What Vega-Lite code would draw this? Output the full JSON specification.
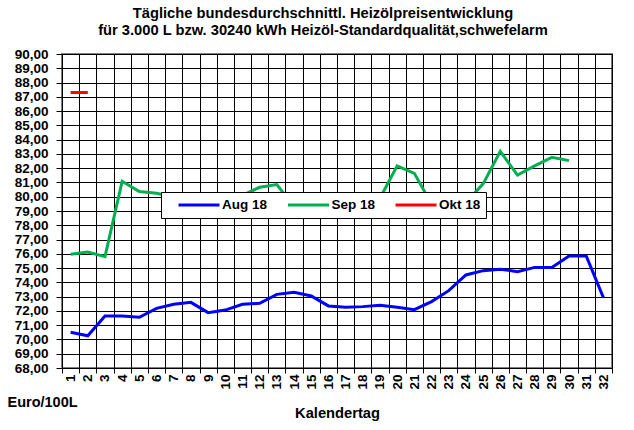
{
  "$schema": "https://vega.github.io/schema/vega-lite/v6.json",
  "width": 550,
  "height": 314,
  "autosize": {"type": "none"},
  "padding": {"left": 62, "top": 54, "right": 22, "bottom": 62},
  "background": "white",
  "title": {
    "text": ["Tägliche bundesdurchschnittl. Heizölpreisentwicklung", "für 3.000 L bzw. 30240 kWh Heizöl-Standardqualität,schwefelarm"],
    "font": "Liberation Sans",
    "fontSize": 14.7,
    "fontWeight": "bold",
    "color": "black",
    "anchor": "middle",
    "offset": 9,
    "lineHeight": 17,
    "dx": -14
  },
  "config": {
    "font": "Liberation Sans",
    "view": {"stroke": "#808080", "strokeWidth": 2}
  },
  "data": {
    "values": [
      {"tag": 1, "serie": "Aug 18", "wert": 70.5},
      {"tag": 2, "serie": "Aug 18", "wert": 70.26},
      {"tag": 3, "serie": "Aug 18", "wert": 71.64},
      {"tag": 4, "serie": "Aug 18", "wert": 71.65},
      {"tag": 5, "serie": "Aug 18", "wert": 71.55},
      {"tag": 6, "serie": "Aug 18", "wert": 72.18},
      {"tag": 7, "serie": "Aug 18", "wert": 72.46},
      {"tag": 8, "serie": "Aug 18", "wert": 72.6},
      {"tag": 9, "serie": "Aug 18", "wert": 71.88},
      {"tag": 10, "serie": "Aug 18", "wert": 72.06},
      {"tag": 11, "serie": "Aug 18", "wert": 72.46},
      {"tag": 12, "serie": "Aug 18", "wert": 72.53},
      {"tag": 13, "serie": "Aug 18", "wert": 73.16},
      {"tag": 14, "serie": "Aug 18", "wert": 73.3},
      {"tag": 15, "serie": "Aug 18", "wert": 73.05},
      {"tag": 16, "serie": "Aug 18", "wert": 72.35},
      {"tag": 17, "serie": "Aug 18", "wert": 72.25},
      {"tag": 18, "serie": "Aug 18", "wert": 72.3},
      {"tag": 19, "serie": "Aug 18", "wert": 72.4},
      {"tag": 20, "serie": "Aug 18", "wert": 72.25},
      {"tag": 21, "serie": "Aug 18", "wert": 72.09},
      {"tag": 22, "serie": "Aug 18", "wert": 72.65},
      {"tag": 23, "serie": "Aug 18", "wert": 73.42},
      {"tag": 24, "serie": "Aug 18", "wert": 74.52},
      {"tag": 25, "serie": "Aug 18", "wert": 74.82},
      {"tag": 26, "serie": "Aug 18", "wert": 74.92},
      {"tag": 27, "serie": "Aug 18", "wert": 74.75},
      {"tag": 28, "serie": "Aug 18", "wert": 75.05},
      {"tag": 29, "serie": "Aug 18", "wert": 75.05},
      {"tag": 30, "serie": "Aug 18", "wert": 75.85},
      {"tag": 31, "serie": "Aug 18", "wert": 75.85},
      {"tag": 32, "serie": "Aug 18", "wert": 72.93},
      {"tag": 1, "serie": "Sep 18", "wert": 75.97},
      {"tag": 2, "serie": "Sep 18", "wert": 76.13},
      {"tag": 3, "serie": "Sep 18", "wert": 75.8},
      {"tag": 4, "serie": "Sep 18", "wert": 81.08},
      {"tag": 5, "serie": "Sep 18", "wert": 80.36},
      {"tag": 6, "serie": "Sep 18", "wert": 80.24},
      {"tag": 7, "serie": "Sep 18", "wert": 80.0},
      {"tag": 8, "serie": "Sep 18", "wert": 79.6},
      {"tag": 9, "serie": "Sep 18", "wert": 79.4},
      {"tag": 10, "serie": "Sep 18", "wert": 79.6},
      {"tag": 11, "serie": "Sep 18", "wert": 80.1},
      {"tag": 12, "serie": "Sep 18", "wert": 80.66},
      {"tag": 13, "serie": "Sep 18", "wert": 80.85},
      {"tag": 14, "serie": "Sep 18", "wert": 79.3},
      {"tag": 15, "serie": "Sep 18", "wert": 79.1},
      {"tag": 16, "serie": "Sep 18", "wert": 79.0},
      {"tag": 17, "serie": "Sep 18", "wert": 79.2},
      {"tag": 18, "serie": "Sep 18", "wert": 79.5},
      {"tag": 19, "serie": "Sep 18", "wert": 79.9},
      {"tag": 20, "serie": "Sep 18", "wert": 82.16},
      {"tag": 21, "serie": "Sep 18", "wert": 81.64},
      {"tag": 22, "serie": "Sep 18", "wert": 79.5},
      {"tag": 23, "serie": "Sep 18", "wert": 79.3},
      {"tag": 24, "serie": "Sep 18", "wert": 79.6},
      {"tag": 25, "serie": "Sep 18", "wert": 80.9},
      {"tag": 26, "serie": "Sep 18", "wert": 83.18},
      {"tag": 27, "serie": "Sep 18", "wert": 81.52},
      {"tag": 28, "serie": "Sep 18", "wert": 82.16},
      {"tag": 29, "serie": "Sep 18", "wert": 82.76},
      {"tag": 30, "serie": "Sep 18", "wert": 82.53},
      {"tag": 1, "serie": "Okt 18", "wert": 87.3},
      {"tag": 2, "serie": "Okt 18", "wert": 87.3}
    ]
  },
  "mark": {"type": "line", "strokeWidth": 3},
  "encoding": {
    "x": {
      "field": "tag",
      "type": "ordinal",
      "bandPosition": 0.5,
      "scale": {
        "type": "band",
        "domain": [1,2,3,4,5,6,7,8,9,10,11,12,13,14,15,16,17,18,19,20,21,22,23,24,25,26,27,28,29,30,31,32],
        "paddingInner": 0,
        "paddingOuter": 0
      },
      "axis": {
        "title": "Kalendertag",
        "titleFont": "Liberation Sans",
        "titleFontSize": 14.7,
        "titleFontWeight": "bold",
        "titleColor": "black",
        "titleY": 45,
        "titleBaseline": "middle",
        "labelAngle": 270,
        "labelFont": "Liberation Sans",
        "labelFontSize": 13.5,
        "labelFontWeight": "bold",
        "labelColor": "black",
        "labelPadding": 1,
        "tickBand": "extent",
        "tickColor": "black",
        "tickSize": 5,
        "domainColor": "black",
        "grid": true,
        "gridColor": "black",
        "gridOpacity": 1,
        "gridWidth": 1
      }
    },
    "y": {
      "field": "wert",
      "type": "quantitative",
      "scale": {"domain": [68, 90], "nice": false, "zero": false},
      "axis": {
        "values": [68,69,70,71,72,73,74,75,76,77,78,79,80,81,82,83,84,85,86,87,88,89,90],
        "labelExpr": "replace(format(datum.value, '.2f'), '.', ',')",
        "labelFont": "Liberation Sans",
        "labelFontSize": 13.5,
        "labelFontWeight": "bold",
        "labelColor": "black",
        "labelPadding": 8,
        "tickColor": "black",
        "tickSize": 6,
        "domainColor": "black",
        "grid": true,
        "gridColor": "black",
        "gridOpacity": 1,
        "gridWidth": 1,
        "title": "Euro/100L",
        "titleFont": "Liberation Sans",
        "titleFontSize": 14.5,
        "titleFontWeight": "bold",
        "titleColor": "black",
        "titleAngle": 0,
        "titleAlign": "left",
        "titleBaseline": "middle",
        "titleX": -55,
        "titleY": 348
      }
    },
    "color": {
      "field": "serie",
      "type": "nominal",
      "scale": {
        "domain": ["Aug 18", "Sep 18", "Okt 18"],
        "range": ["#0000FF", "#00B050", "#FF0000"]
      },
      "legend": {
        "title": null,
        "orient": "none",
        "legendX": 99,
        "legendY": 138,
        "direction": "horizontal",
        "symbolType": "stroke",
        "symbolSize": 1681,
        "symbolStrokeWidth": 3,
        "clipHeight": 16,
        "symbolOffset": 11,
        "labelOffset": 1,
        "labelFont": "Liberation Sans",
        "labelFontSize": 13.5,
        "labelFontWeight": "bold",
        "labelColor": "black",
        "columnPadding": 7.5,
        "padding": 5,
        "fillColor": "white",
        "strokeColor": "black",
        "cornerRadius": 0
      }
    }
  }
}
